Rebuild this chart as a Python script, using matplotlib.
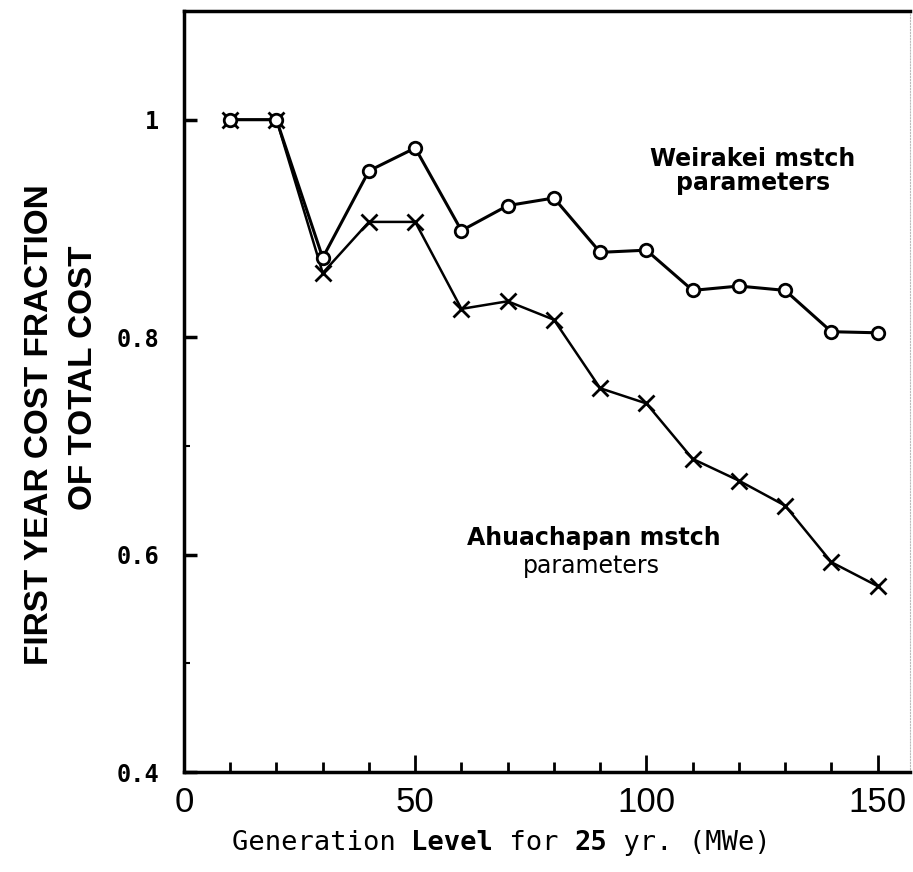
import matplotlib
matplotlib.use("Agg")
import matplotlib.pyplot as plt
import numpy as np

# generation level (MWe)
gen = [10, 20, 30, 40, 50, 60, 70, 80, 90, 100, 110, 120, 130, 140, 150]
# first year cost fraction of total cost
wairakei = [1.0, 1.0, 0.873, 0.953, 0.974, 0.898, 0.921, 0.928, 0.878, 0.880,
            0.843, 0.847, 0.843, 0.805, 0.804]
ahuachapan = [1.0, 1.0, 0.859, 0.906, 0.906, 0.826, 0.833, 0.816, 0.753, 0.739,
              0.688, 0.668, 0.645, 0.593, 0.571]

xticks_major = [0, 50, 100, 150]
yticks_major = [0.4, 0.6, 0.8, 1.0]
ytick_labels = ['0.4', '0.6', '0.8', '1']

fig = plt.figure(figsize=(9.13, 8.72), dpi=100)
ax = fig.add_axes([184 / 913, 1 - 772 / 872, (910 - 184) / 913, (772 - 11) / 872])

ax.plot(gen, ahuachapan, color='black', lw=1.8, marker='x', ms=11, mew=2, zorder=3)
ax.plot(gen, wairakei, color='black', lw=2.2, marker='o', ms=9, mfc='white',
        mec='black', mew=2, zorder=4)

ax.set_xlim(0, 157)
ax.set_ylim(0.4, 1.1)

ax.set_xticks(xticks_major)
ax.set_xticks(np.arange(10, 151, 10), minor=True)
ax.set_yticks(yticks_major)
ax.set_yticklabels(ytick_labels)
ax.set_yticks([0.5, 0.7], minor=True)

ax.tick_params(axis='x', which='major', direction='in', length=12, width=2, pad=10,
               labelsize=25, top=False)
ax.tick_params(axis='x', which='minor', direction='in', length=7, width=2, top=False)
ax.tick_params(axis='y', which='major', direction='in', length=9, width=2.5, pad=18,
               labelsize=17, right=False)
ax.tick_params(axis='y', which='minor', direction='in', length=4, width=1.5, right=False)
for lab in ax.get_xticklabels():
    lab.set_family('Liberation Sans')
for lab in ax.get_yticklabels():
    lab.set_family('DejaVu Sans Mono')
    lab.set_fontweight('bold')

for s in ['left', 'bottom', 'top']:
    ax.spines[s].set_linewidth(2.5)
ax.spines['right'].set_linewidth(0.8)
ax.spines['right'].set_linestyle(':')
ax.spines['right'].set_color('#bbbbbb')

# y label, two lines
fig.text(40 / 913, 1 - 425 / 872, 'FIRST YEAR COST FRACTION', rotation=90,
         ha='center', va='center', fontsize=24, fontweight='bold',
         family='Liberation Sans')
fig.text(84 / 913, 1 - 378 / 872, 'OF TOTAL COST', rotation=90,
         ha='center', va='center', fontsize=24, fontweight='bold',
         family='Liberation Sans')

# x label: monospace pieces, bold words in between
xl_size = 19.5
char_w = 0.602 * xl_size * 100 / 72 / 913
xl_x, xl_y = 232 / 913, 1 - 843 / 872
pieces = [('Generation ', 'normal'), ('Level', 'bold'), (' for ', 'normal'),
          ('25', 'bold'), (' yr. (MWe)', 'normal')]
n = 0
for txt, w in pieces:
    fig.text(xl_x + n * char_w, xl_y, txt, ha='left', va='center',
             fontsize=xl_size, family='DejaVu Sans Mono', fontweight=w)
    n += len(txt)

# curve annotations
fig.text(753 / 913, 1 - 171 / 872, 'Weirakei mstch\nparameters', ha='center',
         va='center', fontsize=17, fontweight='heavy', family='DejaVu Sans',
         linespacing=0.95)
fig.text(594 / 913, 1 - 538 / 872, 'Ahuachapan mstch', ha='center', va='center',
         fontsize=17, fontweight='bold', family='DejaVu Sans')
fig.text(591 / 913, 1 - 566 / 872, 'parameters', ha='center', va='center',
         fontsize=17, family='DejaVu Sans')

fig.savefig('out.png', dpi=100)
